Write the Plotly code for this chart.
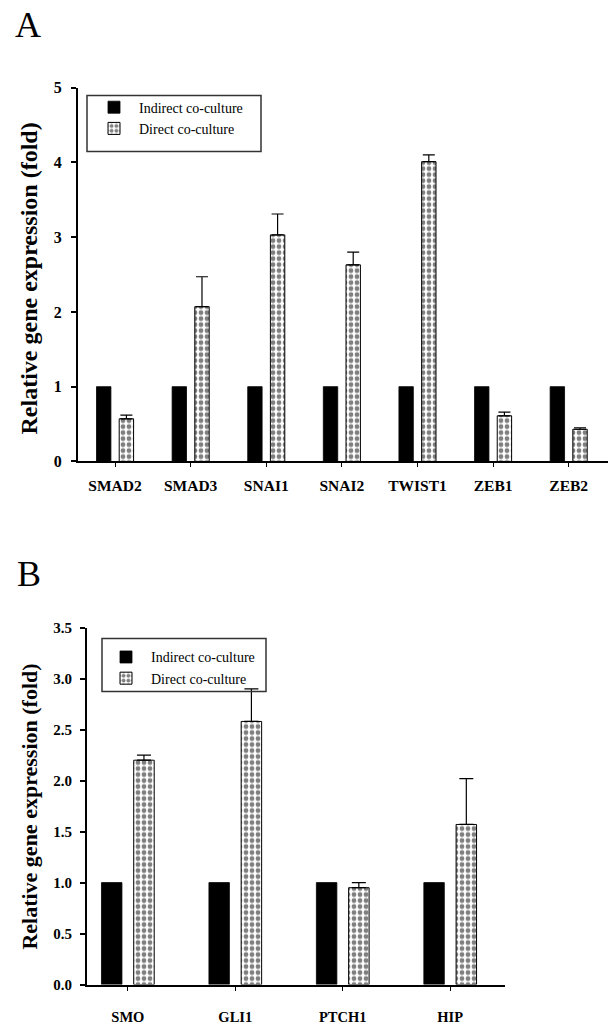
import plotly.graph_objects as go

# ---------------- data ----------------
genes_a = ["SMAD2", "SMAD3", "SNAI1", "SNAI2", "TWIST1", "ZEB1", "ZEB2"]
indirect_a = [1, 1, 1, 1, 1, 1, 1]
direct_a = [0.57, 2.07, 3.03, 2.63, 4.01, 0.61, 0.43]
direct_a_err = [0.05, 0.40, 0.28, 0.17, 0.09, 0.05, 0.02]

genes_b = ["SMO", "GLI1", "PTCH1", "HIP"]
indirect_b = [1, 1, 1, 1]
direct_b = [2.20, 2.58, 0.95, 1.57]
direct_b_err = [0.05, 0.32, 0.05, 0.45]

series_names = ["Indirect co-culture", "Direct co-culture"]
yticks_a = [0, 1, 2, 3, 4, 5]
yticks_b = [0.0, 0.5, 1.0, 1.5, 2.0, 2.5, 3.0, 3.5]

# ---------------- style ----------------
W, H = 611, 1030
SERIF = "Liberation Serif"
checker = dict(shape=".", size=6, solidity=0.5, fgcolor="black", bgcolor="white")


def px_x(p):
    return p / W


def px_y(p):
    return 1 - p / H


fig = go.Figure()

# Panel A
fig.add_trace(go.Bar(
    x=genes_a, y=indirect_a, name=series_names[0],
    marker=dict(color="black", line=dict(color="black", width=0.8)),
    xaxis="x", yaxis="y", legend="legend",
))
fig.add_trace(go.Bar(
    x=genes_a, y=direct_a, name=series_names[1],
    marker=dict(color="white", pattern=checker, line=dict(color="black", width=1)),
    error_y=dict(type="data", array=direct_a_err, arrayminus=[0] * len(direct_a_err),
                 symmetric=False, color="black", thickness=1.2, width=6),
    xaxis="x", yaxis="y", legend="legend",
))

# Panel B
fig.add_trace(go.Bar(
    x=genes_b, y=indirect_b, name=series_names[0],
    marker=dict(color="black", line=dict(color="black", width=0.8)),
    xaxis="x2", yaxis="y2", legend="legend2",
))
fig.add_trace(go.Bar(
    x=genes_b, y=direct_b, name=series_names[1],
    marker=dict(color="white", pattern=checker, line=dict(color="black", width=1)),
    error_y=dict(type="data", array=direct_b_err, arrayminus=[0] * len(direct_b_err),
                 symmetric=False, color="black", thickness=1.2, width=7),
    xaxis="x2", yaxis="y2", legend="legend2",
))

axis_common = dict(showline=True, linecolor="black", linewidth=2, showgrid=False,
                   zeroline=False, ticks="outside", tickcolor="black", fixedrange=True)

legend_common = dict(
    font=dict(family=SERIF, size=14, color="black"),
    bgcolor="rgba(0,0,0,0)", borderwidth=0,
    xanchor="left", yanchor="top", itemwidth=40,
    tracegroupgap=0, traceorder="normal",
)

fig.update_layout(
    width=W, height=H,
    margin=dict(l=0, r=0, t=0, b=0),
    paper_bgcolor="white", plot_bgcolor="white",
    barmode="group", bargap=0.40, bargroupgap=0.365,
    showlegend=True,
    xaxis=dict(axis_common, domain=[px_x(78), px_x(608)], anchor="y",
               type="category", range=[-0.49, 6.52], ticklen=4, tickwidth=1,
               ticklabelstandoff=5,
               tickfont=dict(family=SERIF, size=15.5, color="black", weight="bold")),
    yaxis=dict(axis_common, domain=[px_y(461), px_y(81)], anchor="x",
               range=[0, 5], tickvals=yticks_a, ticklen=5, tickwidth=1.5,
               ticklabelstandoff=6,
               tickfont=dict(family=SERIF, size=16, color="black", weight="bold")),
    xaxis2=dict(axis_common, domain=[px_x(87), px_x(505)], anchor="y2",
                type="category", range=[-0.38, 3.51], ticklen=4, tickwidth=1,
                ticklabelstandoff=14,
                tickfont=dict(family=SERIF, size=14.5, color="black", weight="bold")),
    yaxis2=dict(axis_common, domain=[px_y(993), px_y(630)], anchor="x2",
                range=[0, 3.5], tickvals=yticks_b, tickformat=".1f", ticklen=5,
                tickwidth=1.5, ticklabelstandoff=5,
                tickfont=dict(family=SERIF, size=15, color="black", weight="bold")),
    legend=dict(legend_common, x=px_x(89), y=px_y(85)),
    legend2=dict(legend_common, x=px_x(101), y=px_y(644)),
    shapes=[
        dict(type="rect", xref="paper", yref="paper",
             x0=px_x(87), x1=px_x(261), y0=px_y(146), y1=px_y(89),
             line=dict(color="#333333", width=1.5)),
        dict(type="rect", xref="paper", yref="paper",
             x0=px_x(102), x1=px_x(266), y0=px_y(695), y1=px_y(641),
             line=dict(color="#333333", width=1.5)),
    ],
    annotations=[
        dict(text="A", xref="paper", yref="paper", x=px_x(27.5), y=px_y(-5),
             xanchor="center", yanchor="top", showarrow=False,
             font=dict(family=SERIF, size=36, color="black")),
        dict(text="B", xref="paper", yref="paper", x=px_x(29), y=px_y(575),
             xanchor="center", yanchor="middle", showarrow=False,
             font=dict(family=SERIF, size=36, color="black")),
        dict(text="Relative gene expression (fold)", xref="paper", yref="paper",
             x=px_x(29), y=px_y(275), xanchor="center", yanchor="middle",
             textangle=-90, showarrow=False,
             font=dict(family=SERIF, size=24, color="black", weight="bold")),
        dict(text="Relative gene expression (fold)", xref="paper", yref="paper",
             x=px_x(30), y=px_y(812), xanchor="center", yanchor="middle",
             textangle=-90, showarrow=False,
             font=dict(family=SERIF, size=22, color="black", weight="bold")),
    ],
)

fig.write_html("out.html",
               config={"displayModeBar": False},
               post_script="document.body.style.margin='0';document.body.style.overflow='hidden';")
